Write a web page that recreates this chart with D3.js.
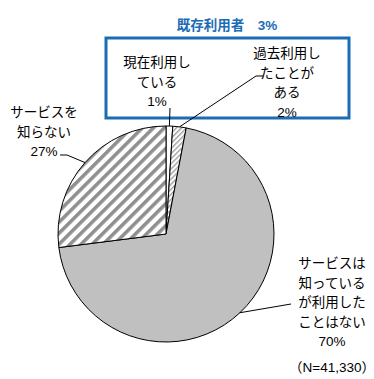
<!DOCTYPE html>
<html>
<head>
<meta charset="utf-8">
<script src="https://cdn.jsdelivr.net/npm/d3@7"></script>
<style>
  body { margin: 0; background: #fff; }
  text { font-family: "Liberation Sans", "Noto Sans CJK JP", sans-serif; font-size: 13.5px; fill: #000; }
</style>
</head>
<body>
<div id="chart"></div>
<script>
//chart data
const categories = ["現在利用している", "過去利用したことがある", "サービスは知っているが利用したことはない", "サービスを知らない"];
const values = [1, 2, 70, 27];
const labelLines = [
    ["現在利用し", "ている", "1%"],
    ["過去利用し", "たことが", "ある", "2%"],
    ["サービスは", "知っている", "が利用した", "ことはない", "70%"],
    ["サービスを", "知らない", "27%"]
];
const groupTitle = "既存利用者　3%";
const sampleNote = "（N=41,330）";

//layout
const width = 374, height = 379;
const cx = 166, cy = 234, radius = 108;
const lineH = 19.5;
const blue = "#1b6cb5";

//label anchors: x center, first baseline
const labelPos = [
    {x: 157, y: 67},
    {x: 287, y: 58},
    {x: 332, y: 268},
    {x: 44, y: 117}
];
//leader start points (near the label) before reaching the arc
const leaderStart = [
    [[170, 108]],
    [[263, 76], [256, 76]],
    [[291, 304]],
    [[60, 155], [67, 155]]
];

const svg = d3.select("#chart").append("svg")
    .attr("width", width)
    .attr("height", height);

//hatch patterns
const defs = svg.append("defs");
defs.append("pattern")
    .attr("id", "hatchWide")
    .attr("patternUnits", "userSpaceOnUse")
    .attr("width", 7.8).attr("height", 7.8)
    .attr("patternTransform", "rotate(45)")
    .call(function(p){
        p.append("rect").attr("width", 7.8).attr("height", 7.8).attr("fill", "#fff");
        p.append("rect").attr("width", 3.6).attr("height", 7.8).attr("fill", "#8f8f8f");
    });
defs.append("pattern")
    .attr("id", "hatchFine")
    .attr("patternUnits", "userSpaceOnUse")
    .attr("width", 3.6).attr("height", 3.6)
    .attr("patternTransform", "rotate(45)")
    .call(function(p){
        p.append("rect").attr("width", 3.6).attr("height", 3.6).attr("fill", "#fff");
        p.append("rect").attr("width", 1.4).attr("height", 3.6).attr("fill", "#a0a0a0");
    });

const fills = ["#ffffff", "url(#hatchFine)", "#c0c0c0", "url(#hatchWide)"];

//pie
const pie = d3.pie().sort(null).value(function(d){ return d; });
const arcs = pie(values);
const arcGen = d3.arc().innerRadius(0).outerRadius(radius);

const g = svg.append("g").attr("transform", "translate(" + cx + "," + cy + ")");
g.selectAll("path")
    .data(arcs)
    .enter().append("path")
    .attr("d", arcGen)
    .attr("fill", function(d, i){ return fills[i]; })
    .attr("stroke", "#000")
    .attr("stroke-width", 1);

//blue group box and title
svg.append("rect")
    .attr("x", 106).attr("y", 38)
    .attr("width", 243).attr("height", 80)
    .attr("fill", "none")
    .attr("stroke", blue)
    .attr("stroke-width", 3);
svg.append("text")
    .attr("x", 227).attr("y", 30)
    .attr("text-anchor", "middle")
    .style("font-weight", "bold")
    .style("fill", blue)
    .text(groupTitle);

//leader lines to the arc at each slice's mid angle
function arcPoint(d){
    const a = (d.startAngle + d.endAngle) / 2;
    return [cx + radius * Math.sin(a), cy - radius * Math.cos(a)];
}
const line = d3.line();
svg.append("g").selectAll("path")
    .data(arcs)
    .enter().append("path")
    .attr("d", function(d, i){ return line(leaderStart[i].concat([arcPoint(d)])); })
    .attr("fill", "none")
    .attr("stroke", "#000")
    .attr("stroke-width", 1);

//labels
const labels = svg.append("g").selectAll("text")
    .data(labelLines)
    .enter().append("text")
    .attr("text-anchor", "middle");
labels.selectAll("tspan")
    .data(function(d, i){ return d.map(function(s){ return {s: s, i: i}; }); })
    .enter().append("tspan")
    .attr("x", function(d){ return labelPos[d.i].x; })
    .attr("y", function(d, j){ return labelPos[d.i].y + j * lineH; })
    .text(function(d){ return d.s; });

svg.append("text")
    .attr("x", 332).attr("y", 372)
    .attr("text-anchor", "middle")
    .text(sampleNote);
</script>
</body>
</html>
